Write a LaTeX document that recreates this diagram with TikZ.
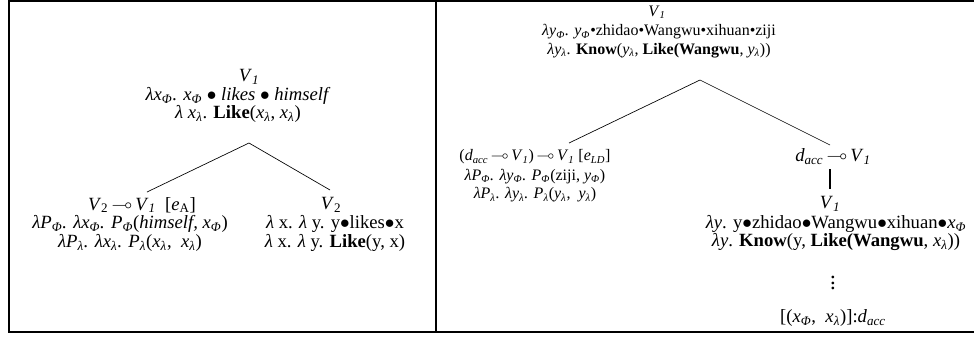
\documentclass[tikz,border=0pt]{standalone}
\usepackage{amssymb}
\usepackage{fontspec}
\setmainfont{Liberation Serif}
\usepackage{tikz}
\usetikzlibrary{positioning}
\tikzstyle{cat} = [inner sep=0pt, align=center]
\tikzstyle{sem} = [inner sep=0pt, align=center]
\tikzstyle{big} = [font=\fontsize{14}{14}\selectfont]
\tikzstyle{branch} = [line width=0.5pt]
\tikzstyle{unary} = [line width=1.3pt]
\tikzstyle{frame} = [line width=1.6pt]
\newcommand{\sub}[1]{\textsubscript{#1}}
\newcommand{\lolli}{\,$\multimap$\,}
\newcommand{\bul}{$\bullet$}

\begin{document}
\begin{tikzpicture}[x=0.75pt, y=-0.75pt, font=\fontsize{12}{13.9}\selectfont]
    \useasboundingbox (0,0) rectangle (974,337);
    % 边框
    \draw [frame] (974,1) -- (9,1) -- (9,332) -- (974,332);
    \draw [frame] (436,1) -- (436,332);

    % 左边的树
    \node [cat, big] (lroot) at (249,77) {\textit{V}\sub{\textit{1}}};
    \node [sem, big] (lrootsem) at (238,105) {\textit{λx\sub{Φ}. x\sub{Φ} $\bullet$ likes $\bullet$ himself}\\
        \textit{λ x\sub{λ}}. \textbf{Like}(\textit{x\sub{λ}}, \textit{x\sub{λ}})};
    \node [cat, big] (lfun) at (142,205) {\textit{V}\sub{2}\lolli\textit{V}\sub{\textit{1}}~~[\textit{e}\sub{A}]};
    \node [sem, big] (lfunsem) at (130,233.5) {\textit{λP\sub{Φ}. λx\sub{Φ}. P\sub{Φ}}(\textit{himself, x\sub{Φ}})\\
        \textit{λP\sub{λ}. λx\sub{λ}. P\sub{λ}}(\textit{x\sub{λ}},~ \textit{x\sub{λ}})};
    \node [cat, big] (larg) at (331,205) {\textit{V}\sub{2}};
    \node [sem, big] (largsem) at (335,233.5) {\textit{λ}~x. \textit{λ}~y. y\bul likes\bul x\\
        \textit{λ}~x. \textit{λ}~y. \textbf{Like}(y, x)};

    \coordinate (lapex) at (249,143);
    \coordinate (lleft) at (147,192);
    \coordinate (lright) at (330,190);
    \draw [branch] (lleft) -- (lapex) -- (lright);

    % 右边的树
    \node [cat] (rroot) at (657,12) {\textit{V}\sub{\textit{1}}};
    \node [sem] (rrootsem) at (659,41) {\textit{λy\sub{Φ}. y\sub{Φ}}•zhidao•Wangwu•xihuan•ziji\\
        \textit{λy\sub{λ}}. \textbf{Know}(\textit{y\sub{λ}}, \textbf{Like(Wangwu}, \textit{y\sub{λ}}))};
    \node [cat] (rfun) at (535,157) {(\textit{d\sub{acc}}\lolli\textit{V}\sub{\textit{1}})\lolli\textit{V}\sub{\textit{1}} [\textit{e\sub{LD}}]};
    \node [sem] (rfunsem) at (535,185.5) {\textit{λP\sub{Φ}. λy\sub{Φ}. P\sub{Φ}}(ziji, \textit{y\sub{Φ}})\\
        \textit{λP\sub{λ}. λy\sub{λ}. P\sub{λ}}(\textit{y\sub{λ}},~ \textit{y\sub{λ}})};
    \node [cat, big] (rarg) at (833,157) {\textit{d\sub{acc}}\lolli\textit{V}\sub{\textit{1}}};
    \node [cat, big] (rargv) at (830,204) {\textit{V}\sub{\textit{1}}};
    \node [sem, big] (rargsem) at (836,233) {\textit{λy}. y\bul zhidao\bul Wangwu\bul xihuan\bul\textit{x\sub{Φ}}\\
        \textit{λy}. \textbf{Know}(y, \textbf{Like(Wangwu}, \textit{x\sub{λ}}))};
    \node [cat, font=\fontsize{17}{17}\selectfont] (rdots) at (833,279) {$\vdots$};
    \node [cat, big] (rhyp) at (833,318) {[(\textit{x\sub{Φ}},~ \textit{x\sub{λ}})]:\textit{d\sub{acc}}};

    \coordinate (rapex) at (700,80);
    \coordinate (rleft) at (569,143);
    \coordinate (rright) at (830,145);
    \coordinate (rtop) at (830,169);
    \coordinate (rbot) at (830,189);
    \draw [branch] (rleft) -- (rapex) -- (rright);
    \draw [unary] (rtop) -- (rbot);
\end{tikzpicture}
\end{document}
